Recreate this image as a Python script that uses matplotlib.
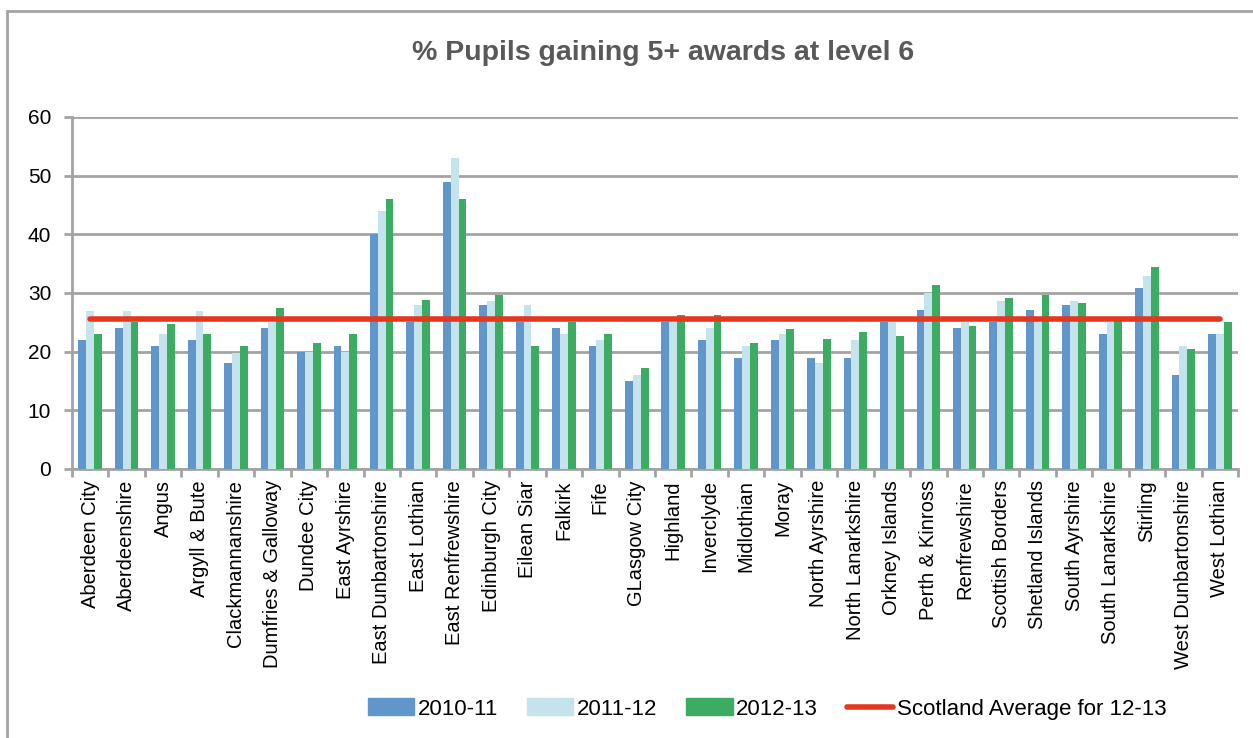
import numpy as np
import matplotlib
matplotlib.use("Agg")
import matplotlib.pyplot as plt
from matplotlib.patches import Rectangle, Patch
from matplotlib.lines import Line2D

plt.rcParams["font.family"] = ["Liberation Sans", "DejaVu Sans"]

councils = [
    "Aberdeen City", "Aberdeenshire", "Angus", "Argyll & Bute", "Clackmannanshire",
    "Dumfries & Galloway", "Dundee City", "East Ayrshire", "East Dunbartonshire",
    "East Lothian", "East Renfrewshire", "Edinburgh City", "Eilean Siar", "Falkirk",
    "Fife", "GLasgow City", "Highland", "Inverclyde", "Midlothian", "Moray",
    "North Ayrshire", "North Lanarkshire", "Orkney Islands", "Perth & Kinross",
    "Renfrewshire", "Scottish Borders", "Shetland Islands", "South Ayrshire",
    "South Lanarkshire", "Stirling", "West Dunbartonshire", "West Lothian",
]
y2010 = [22, 24, 21, 22, 18.1, 24, 20, 21, 40, 25, 49, 28, 25, 24, 21, 15, 25, 22,
         19, 22, 19, 19, 25, 27.1, 24, 25, 27.1, 28, 23, 30.8, 16, 23]
y2011 = [27, 27, 23, 27, 19.8, 25, 20, 20, 44, 28, 53, 28.7, 28, 23, 22, 16, 25, 24,
         21, 23, 18.1, 22, 25, 30, 25, 28.7, 25.5, 28.7, 25, 32.9, 21, 23]
y2012 = [23, 25, 24.7, 23, 21, 27.5, 21.4, 23, 46, 28.8, 46, 29.6, 21, 25.1, 23, 17.3,
         26.3, 26.3, 21.4, 23.8, 22.2, 23.4, 22.6, 31.3, 24.3, 29.2, 29.6, 28.3, 25.5,
         34.5, 20.5, 25.1]
scotland_avg = 25.65

c_2010 = "#6096C9"
c_2011 = "#C4E3EC"
c_2012 = "#3BAC62"
c_avg = "#E3371F"
grid_c = "#A3A3A3"

fig = plt.figure(figsize=(12.53, 7.38), dpi=100)
# chart border
fig.patches.append(Rectangle((7 / 1253, -0.05), 1.1, (738 - 11) / 738 + 0.05,
                             transform=fig.transFigure, fill=False,
                             edgecolor=grid_c, linewidth=2))

ax = fig.add_axes([72 / 1253, (738 - 469) / 738, (1238 - 72) / 1253, (469 - 117) / 738])
x = np.arange(len(councils))
w = 0.215
ax.bar(x - w, y2010, w, color=c_2010, label="2010-11", zorder=3)
ax.bar(x, y2011, w, color=c_2011, label="2011-12", zorder=3)
ax.bar(x + w, y2012, w, color=c_2012, label="2012-13", zorder=3)
ax.plot(x, [scotland_avg] * len(x), color=c_avg, lw=4, solid_capstyle="round",
        zorder=4, label="Scotland Average for 12-13")

ax.set_xlim(-0.5, len(councils) - 0.5)
ax.set_ylim(0, 60)
ax.set_yticks(np.arange(0, 61, 10))
ax.yaxis.grid(True, color=grid_c, lw=2)
ax.set_axisbelow(True)
ax.tick_params(axis="y", labelsize=15, length=6, width=2, color=grid_c, pad=9)

ax.set_xticks(x)
ax.set_xticklabels(councils, rotation=90, fontsize=14.5)
ax.set_xticks(np.arange(-0.5, len(councils)), minor=True)
ax.tick_params(axis="x", which="major", length=0, pad=8)
ax.tick_params(axis="x", which="minor", length=6, width=2, color=grid_c)

for s in ["top", "right"]:
    ax.spines[s].set_visible(False)
for s in ["left", "bottom"]:
    ax.spines[s].set_color(grid_c)
    ax.spines[s].set_linewidth(2)

fig.text(0.529, 1 - 53 / 738, "% Pupils gaining 5+ awards at level 6", ha="center",
         va="center", fontsize=20.5, fontweight="bold", color="#595959")

handles = [Patch(color=c_2010), Patch(color=c_2011), Patch(color=c_2012),
           Line2D([], [], color=c_avg, lw=4, solid_capstyle="round")]
labels = ["2010-11", "2011-12", "2012-13", "Scotland Average for 12-13"]
fig.legend(handles, labels, loc="center", bbox_to_anchor=(767 / 1253, 29 / 738),
           ncol=4, frameon=False, fontsize=16, handlelength=2.1, handleheight=0.8,
           handletextpad=0.15, columnspacing=1.3)

fig.savefig("out.png", dpi=100)
